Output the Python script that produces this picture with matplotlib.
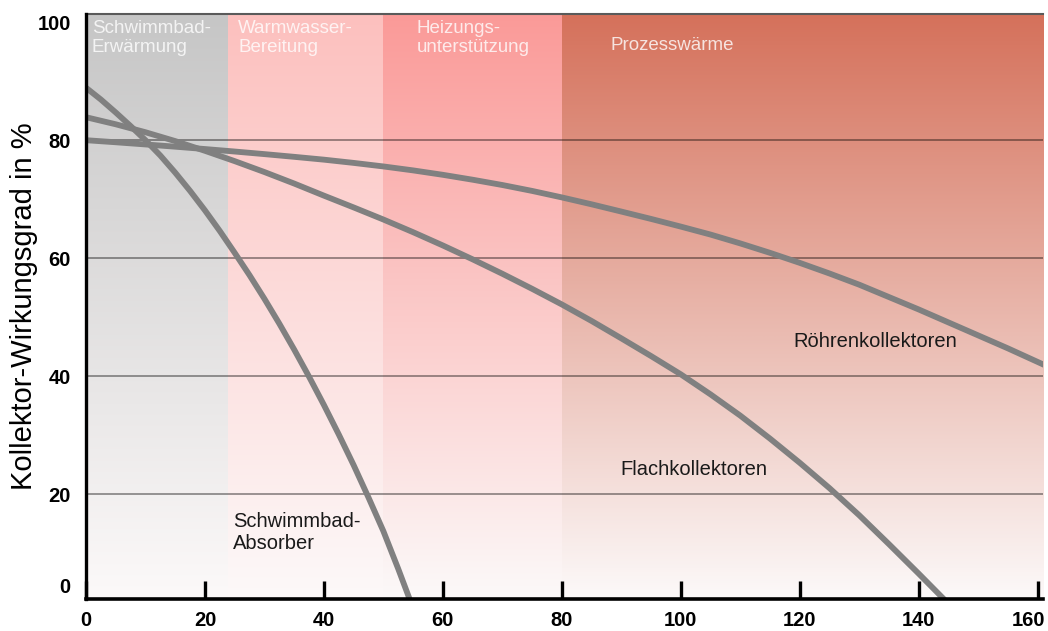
import numpy as np
import matplotlib.pyplot as plt
from matplotlib.colors import to_rgb
from matplotlib.transforms import ScaledTranslation

plt.rcParams['font.family'] = ['Liberation Sans', 'DejaVu Sans']

# Collector efficiency curves (temperature difference vs. efficiency in %)
absorber_x = [0, 2.5, 5, 7.5, 10, 12.5, 15, 17.5, 20, 22.5, 25, 27.5, 30, 32.5,
              35, 37.5, 40, 42.5, 45, 47.5, 50, 52.5, 55, 57.5]
absorber_eta = [88.9, 86.9, 84.7, 82.4, 80.0, 77.4, 74.5, 71.4, 68.1, 64.6, 60.9, 57.1, 53.1, 48.9,
                44.5, 39.9, 35.1, 30.1, 24.9, 19.4, 13.7, 7.3, 0.6, -5.2]

flach_x = [0, 5, 10, 15, 20, 25, 30, 35, 40, 45, 50, 55, 60, 65, 70, 75, 80, 85,
           90, 95, 100, 105, 110, 115, 120, 125, 130, 135, 140, 145, 150]
flach_eta = [83.9, 82.7, 81.35, 79.85, 78.2, 76.45, 74.6, 72.65, 70.6, 68.6, 66.55, 64.4,
             62.15, 59.8, 57.35, 54.8, 52.15, 49.35, 46.4, 43.4, 40.3, 36.9, 33.3, 29.4,
             25.3, 21.0, 16.4, 11.5, 6.5, 1.4, -3.8]

roehren_x = [0, 5, 10, 15, 20, 25, 30, 35, 40, 45, 50, 55, 60, 65, 70, 75, 80, 85,
             90, 95, 100, 105, 110, 115, 120, 125, 130, 135, 140, 145, 150, 155, 160, 165]
roehren_eta = [80.0, 79.65, 79.28, 78.9, 78.5, 78.08, 77.64, 77.18, 76.7, 76.15, 75.55, 74.88,
               74.13, 73.3, 72.4, 71.4, 70.3, 69.13, 67.9, 66.65, 65.35, 64.0, 62.5, 60.9,
               59.2, 57.4, 55.5, 53.4, 51.3, 49.1, 46.9, 44.7, 42.4, 40.1]

# application ranges shown as background bands
region_names = ['Schwimmbad-\nErwärmung', 'Warmwasser-\nBereitung', 'Heizungs-\nunterstützung', 'Prozesswärme']
region_start = [0, 23.9, 50, 80]
region_end = [23.9, 50, 80, 161]

x_ticks = [0, 20, 40, 60, 80, 100, 120, 140, 160]
y_tick_labels = ['0', '20', '40', '60', '80', '100']
grid_values = [20, 40, 60, 80]

# the drawn axis of the original sits slightly above its "0"
y_bottom, y_top = 2.2, 101.4
y_zero_label = 4.5

region_top_colors = ['#c6c6c6', '#fdc0be', '#fa9a98', '#d5715b']
bottom_color = '#fcf9f9'

fig = plt.figure(figsize=(10.48, 6.31), dpi=100)
ax = fig.add_axes([86 / 1048, 32 / 631, 957 / 1048, 585 / 631])

# gradient backgrounds
n = 256
for x0, x1, top in zip(region_start, region_end, region_top_colors):
    c_top = np.array(to_rgb(top))
    c_bot = np.array(to_rgb(bottom_color))
    t = np.linspace(0, 1, n)[:, None]
    grad = c_bot + (c_top - c_bot) * t
    ax.imshow(grad[:, None, :], extent=[x0, x1, y_bottom, y_top], origin='lower',
              aspect='auto', zorder=0, interpolation='bilinear')

ax.hlines(grid_values, 0, 161, colors='black', alpha=0.42, lw=1.3, zorder=1)

curve_color = '#808080'
for cx, cy in [(absorber_x, absorber_eta), (flach_x, flach_eta), (roehren_x, roehren_eta)]:
    ax.plot(cx, cy, color=curve_color, lw=4.2, zorder=3, solid_capstyle='butt',
            solid_joinstyle='round')

ax.set_xlim(0, 160.9)
ax.set_ylim(y_bottom, y_top)

# region labels
region_label_x = [1.0, 25.6, 55.6, 88.1]
region_label_y = [100.3, 100.3, 100.3, 97.5]
for name, lx, ly in zip(region_names, region_label_x, region_label_y):
    ax.text(lx, ly, name, color='white', alpha=0.8, fontsize=13.5, va='top', ha='left',
            linespacing=1.1, zorder=4)

# curve labels
ax.text(24.7, 16.9, 'Schwimmbad-\nAbsorber', fontsize=14.5, color='#1a1a1a', va='top',
        ha='left', linespacing=1.15, zorder=4)
ax.text(89.8, 24.1, 'Flachkollektoren', fontsize=14.5, color='#1a1a1a', va='center',
        ha='left', zorder=4)
ax.text(118.9, 45.8, 'Röhrenkollektoren', fontsize=14.5, color='#1a1a1a', va='center',
        ha='left', zorder=4)

# axes styling
ax.set_xticks(x_ticks)
ax.set_xticklabels([str(v) for v in x_ticks], fontsize=14.5, fontweight='bold')
ax.set_yticks([y_zero_label, 20, 40, 60, 80, 100])
ax.set_yticklabels(y_tick_labels, fontsize=14.5, fontweight='bold')
ax.tick_params(axis='x', direction='in', length=13, width=2.4, color='black', pad=9)
ax.tick_params(axis='y', length=0, pad=11)

# last x label sits a little left of its tick in the original
last = ax.get_xticklabels()[-1]
last.set_transform(last.get_transform() + ScaledTranslation(-0.09, 0, fig.dpi_scale_trans))

ax.spines['right'].set_visible(False)
ax.spines['top'].set_color('#5a5a5a')
ax.spines['top'].set_linewidth(1.5)
ax.spines['left'].set_linewidth(2.4)
ax.spines['bottom'].set_linewidth(2.6)
ax.spines['left'].set_zorder(5)
ax.spines['bottom'].set_zorder(5)

ax.set_ylabel('Kollektor-Wirkungsgrad in %', fontsize=21)
ax.yaxis.set_label_coords(-0.05, 0.5)

fig.savefig('out.png', dpi=100)
